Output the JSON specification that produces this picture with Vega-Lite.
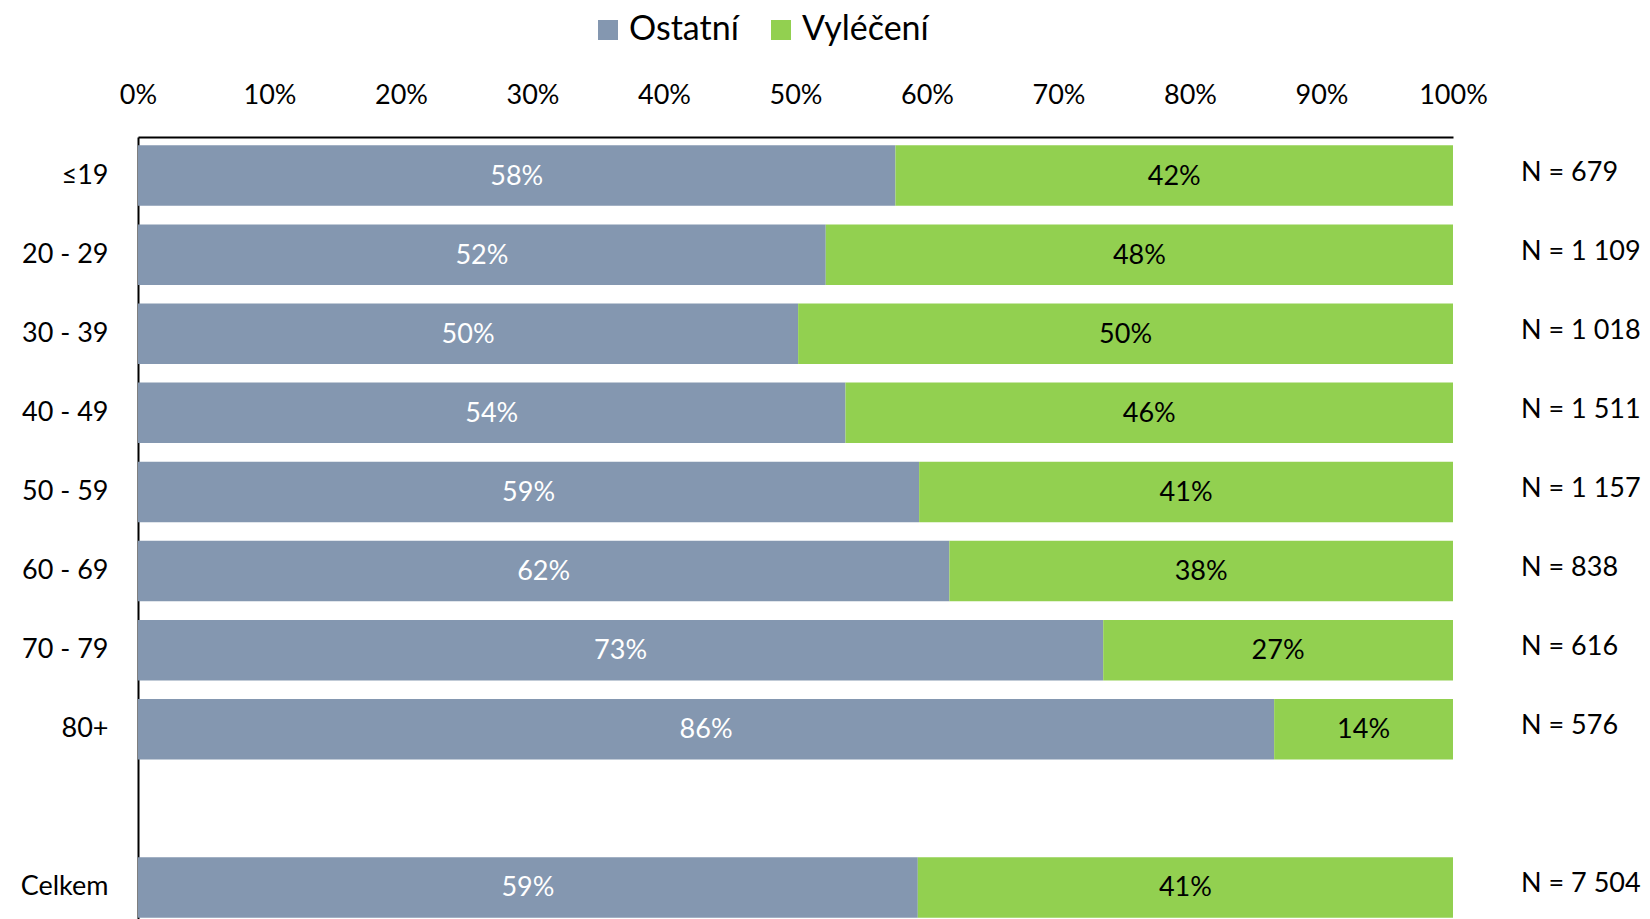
{
  "$schema": "https://vega.github.io/schema/vega-lite/v6.json",
  "width": 1315,
  "height": 789,
  "autosize": {"type": "none"},
  "padding": {"left": 138, "top": 137, "right": 197, "bottom": 0},
  "config": {"view": {"stroke": null}, "font": "Lato"},
  "data": {
    "values": [
      {"cat": "≤19", "group": "Ostatní", "o": 1, "value": 0.576, "nlabel": "N = 679"},
      {"cat": "≤19", "group": "Vyléčení", "o": 2, "value": 0.424, "nlabel": "N = 679"},
      {"cat": "20 - 29", "group": "Ostatní", "o": 1, "value": 0.523, "nlabel": "N = 1 109"},
      {"cat": "20 - 29", "group": "Vyléčení", "o": 2, "value": 0.477, "nlabel": "N = 1 109"},
      {"cat": "30 - 39", "group": "Ostatní", "o": 1, "value": 0.502, "nlabel": "N = 1 018"},
      {"cat": "30 - 39", "group": "Vyléčení", "o": 2, "value": 0.498, "nlabel": "N = 1 018"},
      {"cat": "40 - 49", "group": "Ostatní", "o": 1, "value": 0.538, "nlabel": "N = 1 511"},
      {"cat": "40 - 49", "group": "Vyléčení", "o": 2, "value": 0.462, "nlabel": "N = 1 511"},
      {"cat": "50 - 59", "group": "Ostatní", "o": 1, "value": 0.594, "nlabel": "N = 1 157"},
      {"cat": "50 - 59", "group": "Vyléčení", "o": 2, "value": 0.406, "nlabel": "N = 1 157"},
      {"cat": "60 - 69", "group": "Ostatní", "o": 1, "value": 0.617, "nlabel": "N = 838"},
      {"cat": "60 - 69", "group": "Vyléčení", "o": 2, "value": 0.383, "nlabel": "N = 838"},
      {"cat": "70 - 79", "group": "Ostatní", "o": 1, "value": 0.734, "nlabel": "N = 616"},
      {"cat": "70 - 79", "group": "Vyléčení", "o": 2, "value": 0.266, "nlabel": "N = 616"},
      {"cat": "80+", "group": "Ostatní", "o": 1, "value": 0.864, "nlabel": "N = 576"},
      {"cat": "80+", "group": "Vyléčení", "o": 2, "value": 0.136, "nlabel": "N = 576"},
      {"cat": "Celkem", "group": "Ostatní", "o": 1, "value": 0.593, "nlabel": "N = 7 504"},
      {"cat": "Celkem", "group": "Vyléčení", "o": 2, "value": 0.407, "nlabel": "N = 7 504"}
    ]
  },
  "transform": [
    {"stack": "value", "groupby": ["cat"], "sort": [{"field": "o", "order": "ascending"}], "as": ["x0", "x1"]},
    {"calculate": "(datum.x0 + datum.x1) / 2", "as": "xm"}
  ],
  "encoding": {
    "y": {
      "field": "cat",
      "type": "nominal",
      "title": null,
      "scale": {
        "domain": ["≤19", "20 - 29", "30 - 39", "40 - 49", "50 - 59", "60 - 69", "70 - 79", "80+", " ", "Celkem"],
        "paddingInner": 0.235,
        "paddingOuter": 0.105
      },
      "axis": {
        "domainColor": "black",
        "domainWidth": 2,
        "ticks": false,
        "tickSize": 0,
        "labelPadding": 30,
        "labelFontSize": 27,
        "labelColor": "black",
        "title": null
      }
    }
  },
  "layer": [
    {
      "mark": {"type": "bar"},
      "encoding": {
        "x": {
          "field": "x0",
          "type": "quantitative",
          "scale": {"domain": [0, 1], "nice": false},
          "axis": {
            "orient": "top",
            "format": ".0%",
            "values": [0, 0.1, 0.2, 0.3, 0.4, 0.5, 0.6, 0.7, 0.8, 0.9, 1],
            "grid": false,
            "ticks": false,
            "tickSize": 0,
            "labelPadding": 28,
            "domainColor": "black",
            "domainWidth": 2,
            "labelFontSize": 27,
            "labelColor": "black",
            "labelFlush": false,
            "title": null
          }
        },
        "x2": {"field": "x1"},
        "color": {
          "field": "group",
          "type": "nominal",
          "scale": {"domain": ["Ostatní", "Vyléčení"], "range": ["#8497B0", "#92D050"]},
          "legend": {
            "orient": "none",
            "legendX": 453,
            "legendY": -124,
            "direction": "horizontal",
            "title": null,
            "symbolType": "square",
            "symbolSize": 400,
            "symbolStrokeWidth": 0,
            "symbolOpacity": 1,
            "labelFontSize": 34,
            "labelColor": "black",
            "labelOffset": 4,
            "columnPadding": 25,
            "padding": 0
          }
        }
      }
    },
    {
      "mark": {"type": "text", "fontSize": 27, "baseline": "middle", "dy": 1},
      "encoding": {
        "x": {"field": "xm", "type": "quantitative"},
        "text": {"field": "value", "type": "quantitative", "format": ".0%"},
        "color": {"condition": {"test": "datum.group === 'Ostatní'", "value": "white"}, "value": "black"}
      }
    },
    {
      "transform": [{"filter": "datum.group === 'Ostatní'"}],
      "mark": {"type": "text", "align": "left", "baseline": "middle", "dx": 68, "dy": -3, "fontSize": 27, "color": "black"},
      "encoding": {
        "x": {"datum": 1, "type": "quantitative"},
        "text": {"field": "nlabel"}
      }
    }
  ]
}
